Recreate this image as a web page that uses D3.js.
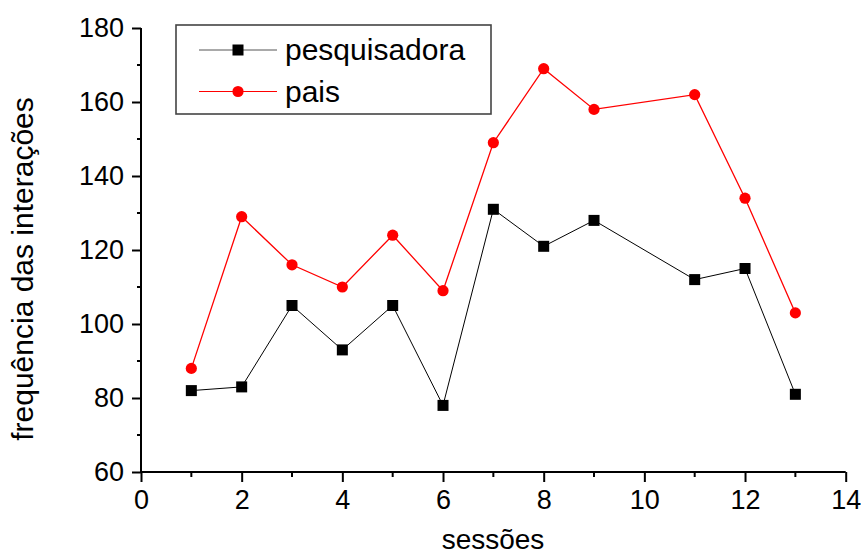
<!DOCTYPE html>
<html>
<head>
<meta charset="utf-8">
<script src="https://cdn.jsdelivr.net/npm/d3@7"></script>
<style>
  html, body { margin: 0; padding: 0; background: #fff; }
  svg { display: block; font-family: Arial, "Liberation Sans", sans-serif; }
</style>
</head>
<body>
<svg id="chart" width="861" height="556"></svg>
<script>
const sessions = [1, 2, 3, 4, 5, 6, 7, 8, 9, 11, 12, 13];
const pesquisadora = [82, 83, 105, 93, 105, 78, 131, 121, 128, 112, 115, 81];
const pais = [88, 129, 116, 110, 124, 109, 149, 169, 158, 162, 134, 103];
const seriesNames = ["pesquisadora", "pais"];
const xTicks = [0, 2, 4, 6, 8, 10, 12, 14];
const yTicks = [60, 80, 100, 120, 140, 160, 180];
const xTitle = "sessões";
const yTitle = "frequência das interações";

const svg = d3.select("#chart");
const x = d3.scaleLinear().domain([0, 14]).range([141, 845.7]);
const y = d3.scaleLinear().domain([60, 180]).range([472, 28]);

// minor ticks
const xMinor = d3.range(1, 14, 2);
const yMinor = d3.range(70, 180, 20);

const gx = svg.append("g").attr("transform", `translate(0,${y(60)})`);
gx.call(d3.axisBottom(x).tickValues(xTicks).tickSize(10).tickPadding(8).tickSizeOuter(0))
  .call(g => g.select(".domain").attr("stroke-width", 2).attr("d", `M${x(0)},0H${x(14)}`));
gx.selectAll(".tick line").attr("stroke-width", 2);
gx.selectAll(".tick text").attr("font-size", 27).attr("fill", "#000").attr("font-family", "Arial, 'Liberation Sans', sans-serif");
gx.selectAll(".minor").data(xMinor).enter().append("line")
  .attr("x1", d => x(d)).attr("x2", d => x(d)).attr("y1", 0).attr("y2", 5)
  .attr("stroke", "#000").attr("stroke-width", 2);

const gy = svg.append("g").attr("transform", `translate(${x(0)},0)`);
gy.call(d3.axisLeft(y).tickValues(yTicks).tickSize(9).tickPadding(8).tickSizeOuter(0))
  .call(g => g.select(".domain").attr("stroke-width", 2).attr("d", `M0,${y(60)}V${y(180)}`));
gy.selectAll(".tick line").attr("stroke-width", 2);
gy.selectAll(".tick text").attr("font-size", 27).attr("fill", "#000").attr("font-family", "Arial, 'Liberation Sans', sans-serif");
gy.selectAll(".minor").data(yMinor).enter().append("line")
  .attr("x1", -4).attr("x2", 0).attr("y1", d => y(d)).attr("y2", d => y(d))
  .attr("stroke", "#000").attr("stroke-width", 2);

// series
const line = d3.line().x(d => x(d[0])).y(d => y(d[1]));
const blackData = sessions.map((s, i) => [s, pesquisadora[i]]);
const redData = sessions.map((s, i) => [s, pais[i]]);

svg.append("path").datum(blackData).attr("d", line)
  .attr("fill", "none").attr("stroke", "#000").attr("stroke-width", 1);
svg.append("path").datum(redData).attr("d", line)
  .attr("fill", "none").attr("stroke", "#ff0000").attr("stroke-width", 1.3);

const sq = 11;
svg.selectAll(".sq").data(blackData).enter().append("rect")
  .attr("x", d => x(d[0]) - sq / 2).attr("y", d => y(d[1]) - sq / 2)
  .attr("width", sq).attr("height", sq).attr("fill", "#000");
svg.selectAll(".ci").data(redData).enter().append("circle")
  .attr("cx", d => x(d[0])).attr("cy", d => y(d[1])).attr("r", 5.6).attr("fill", "#ff0000");

// legend
const lg = svg.append("g");
lg.append("rect").attr("x", 176).attr("y", 25).attr("width", 315).attr("height", 89)
  .attr("fill", "none").attr("stroke", "#444").attr("stroke-width", 1.6);
const rows = [
  { name: seriesNames[0], color: "#000", lineColor: "#555", yy: 50, shape: "sq" },
  { name: seriesNames[1], color: "#ff0000", lineColor: "#ff0000", yy: 91.5, shape: "ci" }
];
rows.forEach(r => {
  lg.append("line").attr("x1", 199).attr("x2", 277).attr("y1", r.yy).attr("y2", r.yy)
    .attr("stroke", r.lineColor).attr("stroke-width", 1);
  if (r.shape === "sq") {
    lg.append("rect").attr("x", 238 - sq / 2).attr("y", r.yy - sq / 2).attr("width", sq).attr("height", sq).attr("fill", r.color);
  } else {
    lg.append("circle").attr("cx", 238).attr("cy", r.yy).attr("r", 5.6).attr("fill", r.color);
  }
  lg.append("text").attr("x", 285).attr("y", r.yy + 10).attr("font-size", 30).attr("fill", "#000").text(r.name);
});

// axis titles
svg.append("text").attr("x", 493).attr("y", 549).attr("text-anchor", "middle")
  .attr("font-size", 28).attr("fill", "#000").text(xTitle);
svg.append("text").attr("transform", "translate(33,269) rotate(-90)").attr("text-anchor", "middle")
  .attr("font-size", 30).attr("fill", "#000").text(yTitle);
</script>
</body>
</html>
